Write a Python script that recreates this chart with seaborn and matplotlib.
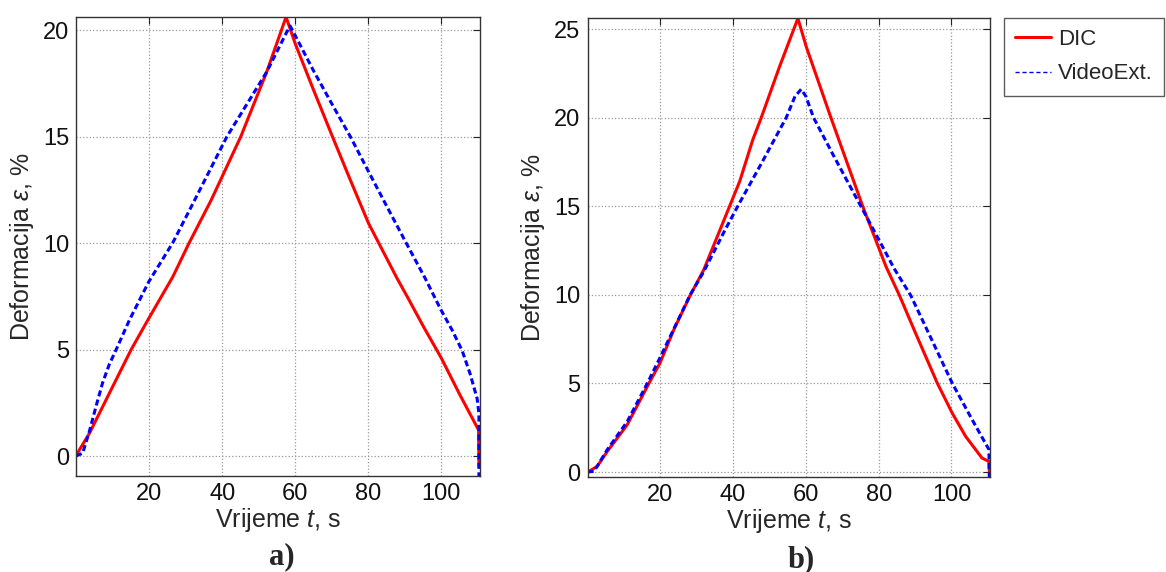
import numpy as np
import pandas as pd
import matplotlib
matplotlib.use('Agg')
import matplotlib.pyplot as plt
import seaborn as sns

# a) DIC vs video extensometer
t_a_dic = [0, 0.9, 3.65, 9.1, 15.1, 19.9, 26.5, 31.0, 37.0, 45.1, 52.2, 57.5, 60.0, 65.0,
           70.2, 75.0, 80.1, 83.3, 87.9, 91.0, 95.2, 100.0, 105.0, 110.2, 110.3]
e_a_dic = [0, 0.28, 1.06, 2.94, 5.0, 6.46, 8.42, 10.02, 12.02, 15.0, 18.04, 20.62, 19.37, 17.2,
           15.0, 13.0, 10.92, 9.86, 8.34, 7.38, 6.05, 4.6, 2.9, 1.22, -0.5]
t_a_vid = [0, 1.8, 3.65, 5.5, 7.3, 9.1, 11.0, 14.6, 19.9, 26.5, 32.0, 41.3, 52.2, 57.5, 58.6,
           60.0, 65.0, 70.0, 75.1, 80.1, 85.0, 90.4, 95.6, 99.7, 103.0, 105.7, 107.9, 109.8, 110.3, 110.3]
e_a_vid = [0, 0.13, 1.15, 2.35, 3.45, 4.3, 5.0, 6.38, 8.18, 10.02, 11.86, 15.0, 18.04, 19.85, 20.2,
           19.75, 18.1, 16.55, 15.0, 13.35, 11.75, 10.0, 8.34, 6.93, 5.9, 4.95, 3.85, 2.7, 2.0, -0.94]

# b)
t_b_dic = [0, 2.66, 5.4, 10.9, 16.8, 19.9, 23.7, 28.2, 31.9, 36.4, 41.8, 45.4, 47.7, 52.8, 57.8,
           60.1, 66.9, 75.6, 82.0, 85.7, 90.0, 96.1, 100.2, 103.9, 108.4, 110.3, 110.4]
e_b_dic = [0, 0.32, 1.16, 2.67, 4.98, 6.15, 8.03, 9.97, 11.4, 13.67, 16.4, 18.75, 19.98, 22.9, 25.6,
           24.0, 19.98, 15.0, 11.6, 9.97, 7.9, 5.02, 3.33, 2.01, 0.79, 0.6, 0.0]
t_b_vid = [0, 1.8, 5.4, 10.9, 16.4, 19.9, 28.2, 31.9, 37.8, 41.8, 48.0, 54.6, 57.0, 58.7, 60.0,
           62.1, 68.0, 75.1, 81.5, 84.2, 88.8, 94.5, 100.2, 105.7, 110.3, 110.4]
e_b_vid = [0, 0.05, 1.26, 2.85, 5.0, 6.45, 10.0, 11.3, 13.67, 15.2, 17.5, 20.0, 21.2, 21.6, 21.2,
           20.0, 17.7, 15.0, 12.55, 11.5, 9.97, 7.5, 5.02, 2.95, 1.27, -0.28]

sns.set_style('white')
plt.rcParams['font.family'] = ['Liberation Sans', 'DejaVu Sans']
plt.rcParams['mathtext.fontset'] = 'custom'
plt.rcParams['mathtext.it'] = 'Liberation Sans:italic'
plt.rcParams['mathtext.rm'] = 'Liberation Sans'

fig = plt.figure(figsize=(11.66, 5.72), dpi=100)
ax1 = fig.add_axes([0.0652, 0.1678, 0.3465, 0.8025])
ax2 = fig.add_axes([0.5039, 0.166, 0.3452, 0.8025])

panels = [(ax1, t_a_dic, e_a_dic, t_a_vid, e_a_vid, (-0.94, 20.62), [0, 5, 10, 15, 20]),
          (ax2, t_b_dic, e_b_dic, t_b_vid, e_b_vid, (-0.28, 25.62), [0, 5, 10, 15, 20, 25])]

for ax, td, ed, tv, ev, ylim, yt in panels:
    sns.lineplot(x=td, y=ed, ax=ax, color='#ff0000', lw=2.2, estimator=None, sort=False,
                 label='DIC')
    sns.lineplot(x=tv, y=ev, ax=ax, color='#0000ff', lw=2.2, estimator=None, sort=False,
                 linestyle='--', label='VideoExt.')
    ax.get_lines()[-1].set_dashes([2.0, 1.1])
    ax.set_xlim(0, 110.6)
    ax.set_ylim(*ylim)
    ax.set_xticks([20, 40, 60, 80, 100])
    ax.set_yticks(yt)
    ax.grid(True, linestyle=':', color='#999999', lw=0.9)
    ax.tick_params(direction='in', top=True, right=True, length=5, width=0.8,
                   labelsize=17, pad=5, colors='#222222', labelcolor='#111111')
    for s in ax.spines.values():
        s.set_color('#333333')
        s.set_linewidth(1.0)
    ax.set_xlabel(r'Vrijeme $t$, s', fontsize=18, labelpad=1)
    ax.set_ylabel(r'Deformacija $\varepsilon$, %', fontsize=18, labelpad=5)

ax1.get_legend().remove()
leg = ax2.legend(loc='upper left', bbox_to_anchor=(0.861, 0.9685), bbox_transform=fig.transFigure,
                 frameon=True, fancybox=False, edgecolor='#333333', fontsize=16,
                 handlelength=1.6, handletextpad=0.35, borderaxespad=0, borderpad=0.5,
                 labelspacing=0.6)
leg.get_frame().set_linewidth(1.0)
leg.get_lines()[1].set_linewidth(1.0)
leg.get_lines()[1].set_dashes([3, 2])

fig.text(0.242, 0.026, 'a)', fontfamily='Liberation Serif', fontweight='bold', fontsize=22,
         ha='center', va='center')
fig.text(0.687, 0.022, 'b)', fontfamily='Liberation Serif', fontweight='bold', fontsize=22,
         ha='center', va='center')

fig.savefig('out.png', dpi=100)
